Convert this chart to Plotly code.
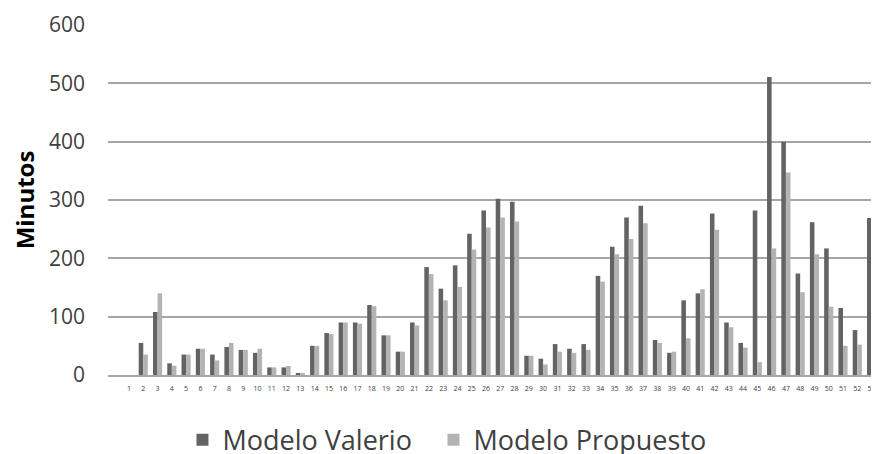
import plotly.graph_objects as go

categories = [str(i) for i in range(1, 54)]
modelo_valerio = [0, 55, 108, 20, 35, 45, 35, 48, 43, 38, 13, 13, 3.5,
                  50, 72, 90, 90, 120, 68, 40, 90, 185, 148, 188, 242, 282, 302, 297,
                  33, 28, 53, 45, 53, 170, 220, 270, 290, 60, 38, 128,
                  140, 277, 90, 55, 282, 511, 400, 174, 262, 217, 115, 77, 269]
modelo_propuesto = [0, 35, 140, 16, 35, 45, 25, 55, 43, 45, 13, 15.5, 3,
                    50, 70, 90, 88, 118, 68, 40, 85, 173, 128, 151, 215, 253, 270, 263,
                    33, 18, 40, 38, 43, 160, 207, 233, 260, 55, 40, 63,
                    147, 249, 82, 47, 22, 217, 347, 142, 207, 117, 50, 52, 199]
y_ticks = [0, 100, 200, 300, 400, 500, 600]

fig = go.Figure()
fig.add_trace(go.Bar(x=categories, y=modelo_valerio, name="Modelo Valerio",
                     marker=dict(color="#636363", line=dict(width=0)), legend="legend"))
fig.add_trace(go.Bar(x=categories, y=modelo_propuesto, name="Modelo Propuesto",
                     marker=dict(color="#b3b3b3", line=dict(width=0)), legend="legend2"))

leg_common = dict(orientation="h", xref="container", yref="container",
                  xanchor="left", y=0.031, yanchor="middle",
                  font=dict(size=27, color="#404040"), bgcolor="rgba(0,0,0,0)")

fig.update_layout(
    width=871, height=446,
    margin=dict(l=100, r=0, t=17, b=79, autoexpand=False),
    paper_bgcolor="white", plot_bgcolor="white",
    barmode="group", bargap=0.36, bargroupgap=0.0,
    font=dict(family="Open Sans", color="#404040"),
    showlegend=True,
    legend=dict(x=0.2003, **leg_common),
    legend2=dict(x=0.4885, **leg_common),
    xaxis=dict(type="category", range=[-1.47, 52.52], showgrid=False, automargin=False,
               tickfont=dict(size=7, color="#404040"), ticks="", ticklabelstandoff=6,
               ticklabeloverflow="allow",
               showline=True, linecolor="#a6a6a6", linewidth=1.5),
    yaxis=dict(range=[0, 600], tickvals=y_ticks, showgrid=True, gridcolor="#a6a6a6",
               gridwidth=1.5, zeroline=False, ticks="", ticklabelstandoff=22,
               automargin=False,
               tickfont=dict(size=21, color="#404040"),
               title=dict(text="<b>Minutos</b>", font=dict(size=24, color="#000000"),
                          standoff=9)),
)

fig.write_html("out.html")
